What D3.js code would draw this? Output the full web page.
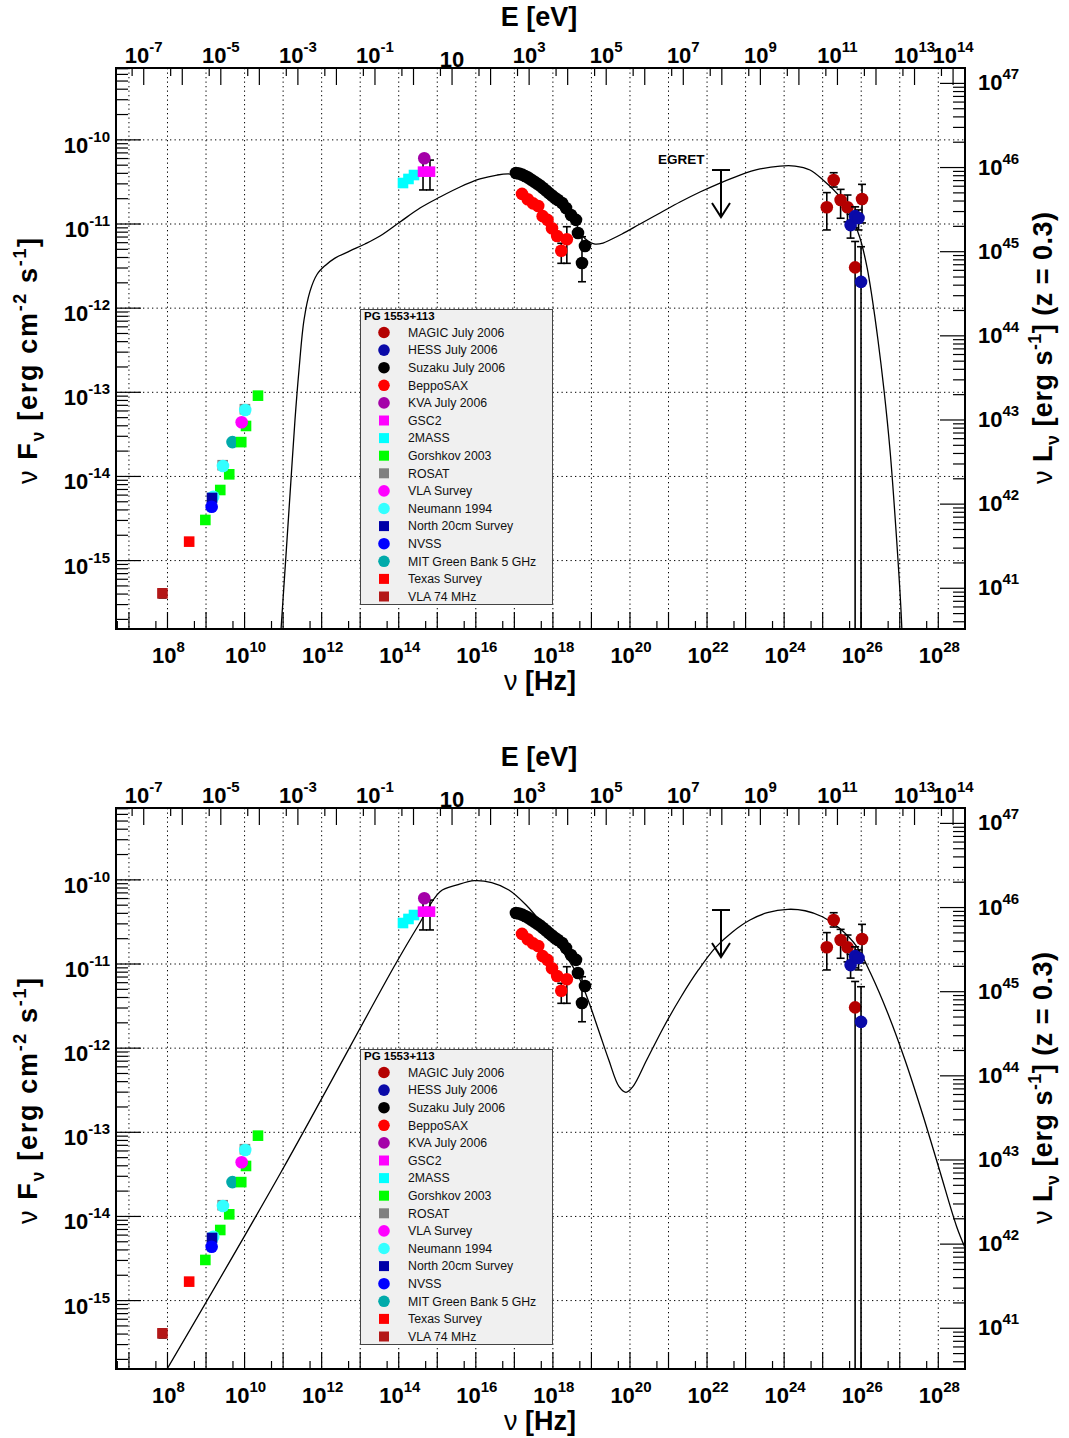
<!DOCTYPE html>
<html>
<head>
<meta charset="utf-8">
<script src="https://cdn.jsdelivr.net/npm/d3@7/dist/d3.min.js"></script>
<style>
  html, body { margin: 0; padding: 0; background: #fff; }
  svg { display: block; }
</style>
</head>
<body>
<svg id="sed" width="1069" height="1438"></svg>
<script>
// ---------------------------------------------------------------
// PG 1553+113 spectral energy distribution.
// Points: [nu (Hz), nuFnu (erg cm^-2 s^-1), lower, upper]; lower <= 0
// means the error bar runs below the plotted range.
// ---------------------------------------------------------------
const sourceName = "PG 1553+113";
const redshift = 0.3;

const magicJuly2006 = [
  [1.28e25, 1.58e-11, 8.5e-12, 2.36e-11],
  [1.93e25, 3.33e-11, 2.75e-11, 4.07e-11],
  [2.92e25, 1.93e-11, 1.17e-11, 2.58e-11],
  [4.41e25, 1.58e-11, 1.06e-11, 2.21e-11],
  [6.95e25, 3.05e-12, 0, 6.2e-12],
  [1.05e26, 1.98e-11, 1.03e-11, 2.96e-11]
];
const hessJuly2006 = [
  [5.30e25, 9.7e-12, 6.8e-12, 1.30e-11],
  [6.95e25, 1.24e-11, 9.0e-12, 1.6e-11],
  [8.51e25, 1.18e-11, 8.5e-12, 1.47e-11],
  [9.89e25, 2.05e-12, 0, 5.37e-12]
];
const suzakuJuly2006 = [
  [1.10e17, 4.04e-11], [1.32e17, 3.98e-11], [1.58e17, 3.87e-11], [1.89e17, 3.72e-11],
  [2.26e17, 3.57e-11], [2.70e17, 3.38e-11], [3.24e17, 3.20e-11], [3.87e17, 3.03e-11],
  [4.63e17, 2.87e-11], [5.55e17, 2.68e-11], [6.64e17, 2.50e-11], [7.93e17, 2.33e-11],
  [9.48e17, 2.18e-11], [1.14e18, 2.04e-11], [1.36e18, 1.93e-11], [1.73e18, 1.78e-11],
  [2.19e18, 1.55e-11], [2.95e18, 1.28e-11], [3.98e18, 1.12e-11], [4.48e18, 7.82e-12],
  [6.81e18, 5.48e-12], [5.69e18, 3.44e-12, 2.06e-12, 7.06e-12]
];
const beppoSAX = [
  [1.58e17, 2.28e-11], [2.23e17, 1.97e-11], [3.05e17, 1.76e-11], [4.16e17, 1.64e-11],
  [5.43e17, 1.24e-11], [7.24e17, 1.12e-11], [9.48e17, 8.89e-12], [1.29e18, 7.19e-12],
  [1.65e18, 4.82e-12, 3.41e-12, 5.90e-12], [2.30e18, 6.58e-12, 3.41e-12, 9.29e-12]
];
const kvaJuly2006 = [[4.60e14, 6.04e-11]];
const gsc2 = [
  [4.27e14, 4.19e-11, 2.54e-11, 5.75e-11],
  [6.47e14, 4.19e-11, 2.54e-11, 5.75e-11]
];
const twoMass = [[1.29e14, 3.07e-11], [1.79e14, 3.43e-11], [2.49e14, 3.82e-11]];
const gorshkov2003 = [
  [9.6e8, 3.04e-15], [2.34e9, 6.90e-15], [4.0e9, 1.06e-14],
  [8.2e9, 2.56e-14], [1.09e10, 3.98e-14], [2.23e10, 9.12e-14]
];
const rosat = [[2.70e9, 1.36e-14], [1.02e10, 6.30e-14]];
const vlaSurvey = [[8.4e9, 4.41e-14]];
const neumann1994 = [[1.54e9, 5.74e-15], [2.75e9, 1.33e-14], [1.04e10, 6.17e-14]];
const north20cm = [[1.43e9, 5.55e-15]];
const nvss = [[1.40e9, 4.37e-15]];
const mitGreenBank = [[4.85e9, 2.56e-14]];
const texasSurvey = [[3.65e8, 1.68e-15]];
const vla74MHz = [[7.4e7, 4.08e-16, 3.6e-16, 4.6e-16]];

// EGRET upper limit
const egretLimit = [2.30e22, 4.38e-11];

// Model curves, log10(nu/Hz) and log10(nuFnu)
const modelALogNu = [10.893, 10.997, 11.101, 11.204, 11.308, 11.412, 11.542, 11.697, 11.879, 12.087,
  12.346, 12.735, 13.125, 13.514, 14.033, 14.552, 15.071, 15.590, 16.109, 16.550, 16.887, 17.406,
  17.925, 18.314, 18.574, 18.755, 18.911, 19.093, 19.300, 19.534, 19.794, 20.261, 20.780, 21.298,
  21.817, 22.336, 22.855, 23.374, 23.893, 24.282, 24.671, 25.008, 25.449, 25.787, 25.968, 26.150,
  26.280, 26.435, 26.591, 26.747, 26.902, 27.032, 27.084];
const modelALogFlux = [-16.181, -15.468, -14.755, -14.042, -13.329, -12.735, -12.141, -11.800, -11.600,
  -11.495, -11.405, -11.320, -11.238, -11.143, -10.976, -10.810, -10.679, -10.560, -10.465, -10.418,
  -10.406, -10.453, -10.596, -10.798, -10.976, -11.131, -11.202, -11.238, -11.226, -11.178, -11.119,
  -11.000, -10.869, -10.739, -10.620, -10.513, -10.418, -10.346, -10.311, -10.311, -10.358, -10.477,
  -10.679, -10.952, -11.166, -11.511, -11.868, -12.378, -12.973, -13.686, -14.636, -15.587, -16.181];

const modelBLogNu = [7.883, 10.919, 13.903, 14.500, 15.071, 15.517, 15.963, 16.412, 16.858, 17.305,
  17.751, 18.200, 18.646, 18.913, 19.183, 19.451, 19.718, 19.897, 20.076, 20.434, 20.880, 21.326,
  21.775, 22.222, 22.668, 23.114, 23.563, 24.098, 24.544, 24.993, 25.439, 25.885, 26.243, 26.690,
  27.136, 27.585, 28.031, 28.477, 28.700];
const modelBLogFlux = [-15.896, -13.496, -11.012, -10.548, -10.141, -10.061, -10.010, -10.034, -10.121,
  -10.299, -10.537, -10.813, -11.131, -11.428, -11.784, -12.141, -12.458, -12.525, -12.458, -12.141,
  -11.745, -11.389, -11.071, -10.802, -10.616, -10.477, -10.390, -10.350, -10.367, -10.438, -10.576,
  -10.794, -11.111, -11.586, -12.141, -12.774, -13.448, -14.122, -14.378];

// Axis ranges and tick labels
const nuRange = [Math.pow(10, 6.664), Math.pow(10, 28.693)];
const fluxRange = [Math.pow(10, -15.813), Math.pow(10, -9.146)];
const nuLabelExps = [8, 10, 12, 14, 16, 18, 20, 22, 24, 26, 28];
const energyLabelExps = [-7, -5, -3, -1, 1, 3, 5, 7, 9, 11, 13, 14];
const fluxLabelExps = [-10, -11, -12, -13, -14, -15];
const lumLabelExps = [41, 42, 43, 44, 45, 46, 47];

// Physical constants
const hPlanckEV = 4.135667e-15;   // eV s
const lumDistanceCm = 4.12e27;    // cm, z = 0.3
const lumFactor = 4 * Math.PI * lumDistanceCm * lumDistanceCm;

// Legend entries
const series = [
  { name: "MAGIC July 2006", color: "#b40000", shape: "circle", data: magicJuly2006 },
  { name: "HESS July 2006", color: "#0a0aa8", shape: "circle", data: hessJuly2006 },
  { name: "Suzaku July 2006", color: "#000000", shape: "circle", data: suzakuJuly2006 },
  { name: "BeppoSAX", color: "#ff0000", shape: "circle", data: beppoSAX },
  { name: "KVA July 2006", color: "#a400a8", shape: "circle", data: kvaJuly2006 },
  { name: "GSC2", color: "#ff00ff", shape: "square", data: gsc2 },
  { name: "2MASS", color: "#00ffff", shape: "square", data: twoMass },
  { name: "Gorshkov 2003", color: "#00ff00", shape: "square", data: gorshkov2003 },
  { name: "ROSAT", color: "#808080", shape: "square", data: rosat },
  { name: "VLA Survey", color: "#ff00ff", shape: "circle", data: vlaSurvey },
  { name: "Neumann 1994", color: "#33ffff", shape: "circle", data: neumann1994 },
  { name: "North 20cm Survey", color: "#0000a8", shape: "square", data: north20cm },
  { name: "NVSS", color: "#0000ff", shape: "circle", data: nvss },
  { name: "MIT Green Bank 5 GHz", color: "#00aaaa", shape: "circle", data: mitGreenBank },
  { name: "Texas Survey", color: "#ff0000", shape: "square", data: texasSurvey },
  { name: "VLA 74 MHz", color: "#b41818", shape: "square", data: vla74MHz }
];
// painting order (later ones on top)
const paintOrder = ["VLA 74 MHz", "Texas Survey", "MIT Green Bank 5 GHz", "Gorshkov 2003", "ROSAT",
  "Neumann 1994", "VLA Survey", "North 20cm Survey", "NVSS", "2MASS", "GSC2", "KVA July 2006",
  "Suzaku July 2006", "BeppoSAX", "MAGIC July 2006", "HESS July 2006"];

// ---------------------------------------------------------------
const FONT = "'Liberation Sans', Arial, Helvetica, sans-serif";
const frame = { left: 116, right: 965, top: 68, bottom: 629 };

const x = d3.scaleLog().domain(nuRange).range([frame.left, frame.right]);
const y = d3.scaleLog().domain(fluxRange).range([frame.bottom, frame.top]);
const xE = d3.scaleLog().domain(nuRange.map(v => v * hPlanckEV)).range([frame.left, frame.right]);
const yL = d3.scaleLog().domain(fluxRange.map(v => v * lumFactor)).range([frame.bottom, frame.top]);

const svg = d3.select("#sed");
svg.append("rect").attr("width", 1069).attr("height", 1438).attr("fill", "#fff");

function decades(lo, hi) {
  const out = [];
  for (let k = Math.ceil(Math.log10(lo) - 1e-9); k <= Math.floor(Math.log10(hi) + 1e-9); k++) out.push(k);
  return out;
}

function powerLabel(sel, exp, supSize, supDy) {
  sel.append("tspan").text("10");
  if (exp !== 1) sel.append("tspan").attr("font-size", supSize).attr("dy", -supDy).text(String(exp));
}

function richText(sel, parts, size) {
  let shift = 0;
  parts.forEach(p => {
    const target = p.sup ? -0.42 * size : p.sub ? 0.25 * size : 0;
    const t = sel.append("tspan").attr("dy", target - shift).text(p.t);
    if (p.sup || p.sub) t.attr("font-size", size * 0.66);
    if (p.normal) t.attr("font-weight", "normal");
    shift = target;
  });
}

function drawPanel(offsetY, logNu, logFlux, idx, egretLabel) {
  const g = svg.append("g").attr("transform", `translate(0,${offsetY})`);
  const clipId = "plotclip" + idx;
  g.append("clipPath").attr("id", clipId).append("rect")
    .attr("x", frame.left).attr("y", frame.top)
    .attr("width", frame.right - frame.left).attr("height", frame.bottom - frame.top);

  // dotted grid
  const grid = g.append("g").attr("stroke", "#000").attr("stroke-width", 1)
    .attr("stroke-dasharray", "1.3,3.2");
  decades(nuRange[0], nuRange[1]).forEach(k => {
    grid.append("line").attr("x1", x(Math.pow(10, k))).attr("x2", x(Math.pow(10, k)))
      .attr("y1", frame.top).attr("y2", frame.bottom);
  });
  decades(fluxRange[0], fluxRange[1]).forEach(k => {
    grid.append("line").attr("y1", y(Math.pow(10, k))).attr("y2", y(Math.pow(10, k)))
      .attr("x1", frame.left).attr("x2", frame.right);
  });

  // ticks
  const ticks = g.append("g").attr("stroke", "#000").attr("stroke-width", 1.2);
  decades(nuRange[0], nuRange[1]).forEach(k => {
    const v = Math.pow(10, k);
    ticks.append("line").attr("x1", x(v)).attr("x2", x(v)).attr("y1", frame.bottom).attr("y2", frame.bottom - 17);
    const m = 5 * Math.pow(10, k - 1);
    if (m > nuRange[0]) ticks.append("line").attr("x1", x(m)).attr("x2", x(m)).attr("y1", frame.bottom).attr("y2", frame.bottom - 8);
  });
  const eDom = xE.domain();
  decades(eDom[0], eDom[1]).forEach(k => {
    const v = Math.pow(10, k);
    ticks.append("line").attr("x1", xE(v)).attr("x2", xE(v)).attr("y1", frame.top).attr("y2", frame.top + 17);
    const m = 5 * Math.pow(10, k - 1);
    if (m > eDom[0]) ticks.append("line").attr("x1", xE(m)).attr("x2", xE(m)).attr("y1", frame.top).attr("y2", frame.top + 8);
  });
  [[y, frame.left, 1], [yL, frame.right, -1]].forEach(([sc, x0, dir]) => {
    const dom = sc.domain();
    for (let k = Math.floor(Math.log10(dom[0])); k <= Math.ceil(Math.log10(dom[1])); k++) {
      for (let j = 1; j <= 9; j++) {
        const v = j * Math.pow(10, k);
        if (v < dom[0] || v > dom[1]) continue;
        const len = j === 1 ? 25 : 12;
        ticks.append("line").attr("x1", x0).attr("x2", x0 + dir * len).attr("y1", sc(v)).attr("y2", sc(v));
      }
    }
  });

  // tick labels
  const labels = g.append("g").attr("font-family", FONT).attr("font-weight", "bold")
    .attr("font-size", 22).attr("fill", "#000");
  nuLabelExps.forEach(k => {
    const t = labels.append("text").attr("x", x(Math.pow(10, k)) + 1).attr("y", 663).attr("text-anchor", "middle");
    powerLabel(t, k, 15, 11);
  });
  energyLabelExps.forEach(k => {
    const t = labels.append("text").attr("x", xE(Math.pow(10, k)))
      .attr("y", k === 1 ? 67 : 63).attr("text-anchor", "middle");
    powerLabel(t, k, 15, 11);
  });
  fluxLabelExps.forEach(k => {
    const t = labels.append("text").attr("x", 110).attr("y", y(Math.pow(10, k)) + 13).attr("text-anchor", "end");
    powerLabel(t, k, 15, 11);
  });
  lumLabelExps.forEach(k => {
    const t = labels.append("text").attr("x", 978).attr("y", yL(Math.pow(10, k)) + 7).attr("text-anchor", "start");
    powerLabel(t, k, 15, 11);
  });

  // axis titles
  const titles = g.append("g").attr("font-family", FONT).attr("font-weight", "bold")
    .attr("font-size", 27).attr("fill", "#000");
  titles.append("text").attr("x", 539).attr("y", 26).attr("text-anchor", "middle").text("E [eV]");
  const nuT = titles.append("text").attr("x", 540).attr("y", 690).attr("text-anchor", "middle");
  richText(nuT, [{ t: "ν ", normal: true }, { t: "[Hz]" }], 27);
  const lt = titles.append("text").attr("transform", "translate(37,361) rotate(-90)")
    .attr("text-anchor", "middle").attr("textLength", 246).attr("lengthAdjust", "spacing");
  richText(lt, [{ t: "ν ", normal: true }, { t: "F" }, { t: "ν", sub: true }, { t: " [erg cm" },
    { t: "-2", sup: true }, { t: " s" }, { t: "-1", sup: true }, { t: "]" }], 27);
  const rt = titles.append("text").attr("transform", "translate(1052,348) rotate(-90)")
    .attr("text-anchor", "middle").attr("textLength", 272).attr("lengthAdjust", "spacing");
  richText(rt, [{ t: "ν ", normal: true }, { t: "L" }, { t: "ν", sub: true }, { t: " [erg s" },
    { t: "-1", sup: true }, { t: "] (z = " + redshift + ")" }], 27);

  // plotting area
  const plot = g.append("g").attr("clip-path", `url(#${clipId})`);

  // model curve
  const curvePts = logNu.map((v, i) => [Math.pow(10, v), Math.pow(10, logFlux[i])]);
  plot.append("path").datum(curvePts)
    .attr("d", d3.line().x(d => x(d[0])).y(d => y(d[1])).curve(d3.curveCatmullRom.alpha(0.5)))
    .attr("fill", "none").attr("stroke", "#000").attr("stroke-width", 1.3);

  // EGRET upper limit arrow
  const ex = x(egretLimit[0]), ey = y(egretLimit[1]);
  const arr = plot.append("g").attr("stroke", "#000").attr("stroke-width", 2).attr("fill", "none");
  arr.append("line").attr("x1", ex - 9).attr("x2", ex + 9).attr("y1", ey).attr("y2", ey);
  arr.append("line").attr("x1", ex).attr("x2", ex).attr("y1", ey).attr("y2", ey + 47);
  arr.append("path").attr("d", `M${ex - 9},${ey + 33}L${ex},${ey + 47}L${ex + 9},${ey + 33}`);
  if (egretLabel) {
    g.append("text").attr("x", 658).attr("y", 164).attr("font-family", FONT).attr("font-weight", "bold")
      .attr("font-size", 13.5).text("EGRET");
  }

  // data points
  paintOrder.forEach(name => {
    const s = series.find(d => d.name === name);
    const sg = plot.append("g");
    s.data.forEach(d => {
      if (d.length > 2) {
        const yt = y(d[3]);
        const yb = d[2] > 0 ? y(d[2]) : frame.bottom + 5;
        const px = x(d[0]);
        sg.append("line").attr("x1", px).attr("x2", px).attr("y1", yt).attr("y2", yb)
          .attr("stroke", "#000").attr("stroke-width", 1.6);
        sg.append("line").attr("x1", px - 4).attr("x2", px + 4).attr("y1", yt).attr("y2", yt)
          .attr("stroke", "#000").attr("stroke-width", 1.6);
        if (d[2] > 0) sg.append("line").attr("x1", px - 4).attr("x2", px + 4).attr("y1", yb).attr("y2", yb)
          .attr("stroke", "#000").attr("stroke-width", 1.6);
      }
    });
    s.data.forEach(d => {
      if (s.shape === "circle") {
        sg.append("circle").attr("cx", x(d[0])).attr("cy", y(d[1])).attr("r", 6.3).attr("fill", s.color);
      } else {
        sg.append("rect").attr("x", x(d[0]) - 5.3).attr("y", y(d[1]) - 5.3)
          .attr("width", 10.6).attr("height", 10.6).attr("fill", s.color);
      }
    });
  });

  // frame
  g.append("rect").attr("x", frame.left).attr("y", frame.top)
    .attr("width", frame.right - frame.left).attr("height", frame.bottom - frame.top)
    .attr("fill", "none").attr("stroke", "#000").attr("stroke-width", 2);

  // legend
  const lg = g.append("g").attr("font-family", FONT);
  lg.append("rect").attr("x", 360.5).attr("y", 309.5).attr("width", 192).attr("height", 295)
    .attr("fill", "#f0f0f0").attr("stroke", "#444").attr("stroke-width", 1);
  lg.append("text").attr("x", 364).attr("y", 320).attr("font-weight", "bold").attr("font-size", 11.5)
    .text(sourceName);
  series.forEach((s, i) => {
    const cy = 332.5 + i * 17.6;
    if (s.shape === "circle") {
      lg.append("circle").attr("cx", 384).attr("cy", cy).attr("r", 5.8).attr("fill", s.color);
    } else {
      lg.append("rect").attr("x", 379).attr("y", cy - 5).attr("width", 10).attr("height", 10).attr("fill", s.color);
    }
    lg.append("text").attr("x", 408).attr("y", cy + 4.3).attr("font-size", 12.3).attr("fill", "#111").text(s.name);
  });
}

drawPanel(0, modelALogNu, modelALogFlux, 0, true);
drawPanel(740, modelBLogNu, modelBLogFlux, 1, false);
</script>
</body>
</html>
